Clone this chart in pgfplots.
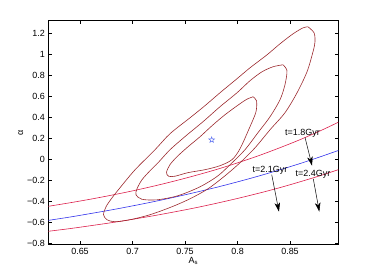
\documentclass[border=0pt]{standalone}
\usepackage{fontspec}
\setmainfont{Liberation Sans}
\usepackage{pgfplots}
\pgfplotsset{compat=1.18}
\usetikzlibrary{arrows.meta}
\definecolor{cred}{RGB}{220,30,75}
\definecolor{cblue}{RGB}{50,50,235}
\definecolor{cbrown}{RGB}{155,40,45}
\definecolor{cstar}{RGB}{90,110,240}
\pgfdeclareplotmark{pstar}{%
  \pgfpathmoveto{\pgfpointpolar{90}{\pgfplotmarksize}}%
  \pgfpathlineto{\pgfpointpolar{126}{0.4\pgfplotmarksize}}%
  \pgfpathlineto{\pgfpointpolar{162}{\pgfplotmarksize}}%
  \pgfpathlineto{\pgfpointpolar{198}{0.4\pgfplotmarksize}}%
  \pgfpathlineto{\pgfpointpolar{234}{\pgfplotmarksize}}%
  \pgfpathlineto{\pgfpointpolar{270}{0.4\pgfplotmarksize}}%
  \pgfpathlineto{\pgfpointpolar{306}{\pgfplotmarksize}}%
  \pgfpathlineto{\pgfpointpolar{342}{0.4\pgfplotmarksize}}%
  \pgfpathlineto{\pgfpointpolar{18}{\pgfplotmarksize}}%
  \pgfpathlineto{\pgfpointpolar{54}{0.4\pgfplotmarksize}}%
  \pgfpathclose
  \pgfusepathqstroke}
\begin{document}
\begin{tikzpicture}
\useasboundingbox (0,0) rectangle (374bp,276bp);
\begin{axis}[
  at={(48.3bp,31.5bp)}, anchor=south west,
  scale only axis, width=290bp, height=224bp,
  xmin=0.6198, xmax=0.896, ymin=-0.815, ymax=1.32,
  xtick={0.65,0.7,0.75,0.8,0.85},
  xticklabels={0.65,0.7,0.75,0.8,0.85},
  ytick={-0.8,-0.6,-0.4,-0.2,0,0.2,0.4,0.6,0.8,1,1.2},
  yticklabels={−0.8,−0.6,−0.4,−0.2,0,0.2,0.4,0.6,0.8,1,1.2},
  tick align=inside, major tick length=3.5bp,
  every tick/.style={black, line width=0.5pt},
  axis line style={line width=0.8pt},
  tick label style={font=\fontsize{9}{10}\selectfont},
  label style={font=\fontsize{9}{10}\selectfont},
  xlabel={A\textsubscript{s}},
  ylabel={α},
  xlabel style={yshift=4bp},
  ylabel style={yshift=-3bp},
  clip=true,
]
% upper red
\addplot[cred, line width=0.6pt, smooth] coordinates {
(0.6198,-0.451) (0.64,-0.418) (0.66,-0.383) (0.68,-0.345) (0.70,-0.304) (0.72,-0.259)
(0.74,-0.210) (0.76,-0.157) (0.78,-0.100) (0.80,-0.037) (0.82,0.031) (0.84,0.106)
(0.86,0.186) (0.88,0.274) (0.896,0.350)};
% blue
\addplot[cblue, line width=0.6pt, smooth] coordinates {
(0.6198,-0.585) (0.64,-0.554) (0.66,-0.520) (0.68,-0.485) (0.70,-0.447) (0.72,-0.407)
(0.74,-0.364) (0.76,-0.318) (0.78,-0.270) (0.80,-0.218) (0.82,-0.163) (0.84,-0.104)
(0.86,-0.042) (0.88,0.025) (0.896,0.081)};
% lower red
\addplot[cred, line width=0.6pt, smooth] coordinates {
(0.6198,-0.689) (0.64,-0.664) (0.66,-0.636) (0.68,-0.607) (0.70,-0.575) (0.72,-0.541)
(0.74,-0.504) (0.76,-0.465) (0.78,-0.422) (0.80,-0.376) (0.82,-0.327) (0.84,-0.274)
(0.86,-0.216) (0.88,-0.155) (0.896,-0.102)};
% outer contour
\addplot[cbrown, line width=0.6pt, smooth] coordinates {
(0.8671,1.260) (0.8729,1.203) (0.8738,1.117) (0.8719,1.022) (0.8662,0.831) (0.8567,0.631)
(0.8452,0.441) (0.8310,0.279) (0.8167,0.107) (0.8024,-0.036) (0.7881,-0.160) (0.7719,-0.284)
(0.7548,-0.379) (0.7376,-0.455) (0.7167,-0.531) (0.6976,-0.579) (0.6833,-0.598) (0.6757,-0.579)
(0.6724,-0.531) (0.6748,-0.455) (0.6805,-0.370) (0.6881,-0.274) (0.7024,-0.103) (0.7214,0.088)
(0.7357,0.241) (0.7548,0.393) (0.7690,0.508) (0.7833,0.631) (0.7995,0.765) (0.8119,0.869)
(0.8281,0.993) (0.8405,1.098) (0.8529,1.193) (0.8624,1.250) (0.8671,1.260)};
% middle contour
\addplot[cbrown, line width=0.6pt, smooth] coordinates {
(0.8433,0.898) (0.8471,0.841) (0.8452,0.708) (0.8405,0.565) (0.8310,0.403) (0.8195,0.251)
(0.8071,0.088) (0.7948,-0.036) (0.7814,-0.160) (0.7643,-0.265) (0.7433,-0.350) (0.7233,-0.389)
(0.7090,-0.384) (0.7033,-0.341) (0.7043,-0.284) (0.7090,-0.198) (0.7167,-0.112) (0.7243,-0.036)
(0.7357,0.088) (0.7510,0.222) (0.7671,0.355) (0.7833,0.498) (0.7995,0.631) (0.8119,0.746)
(0.8233,0.831) (0.8338,0.879) (0.8433,0.898)};
% inner contour
\addplot[cbrown, line width=0.6pt, smooth] coordinates {
(0.8148,0.593) (0.8181,0.555) (0.8176,0.450) (0.8119,0.308) (0.8024,0.098) (0.7948,-0.006)
(0.7833,-0.064) (0.7690,-0.102) (0.7529,-0.130) (0.7405,-0.164) (0.7343,-0.164) (0.7324,-0.126)
(0.7357,-0.054) (0.7424,0.022) (0.7529,0.117) (0.7643,0.212) (0.7757,0.317) (0.7881,0.422)
(0.8024,0.527) (0.8090,0.570) (0.8148,0.593)};
% best fit star
\addplot[cstar, only marks, mark=pstar, mark size=3pt, mark options={line width=0.5pt}] coordinates {(0.7754,0.182)};
% annotations
\draw[black, line width=0.5pt, -{Stealth[length=9bp,width=5.5bp,inset=2.5bp]}] (axis cs:0.8643,0.205) -- (axis cs:0.8710,-0.064);
\draw[black, line width=0.5pt, -{Stealth[length=9bp,width=5.5bp,inset=2.5bp]}] (axis cs:0.8326,-0.150) -- (axis cs:0.8395,-0.502);
\draw[black, line width=0.5pt, -{Stealth[length=9bp,width=5.5bp,inset=2.5bp]}] (axis cs:0.8722,-0.190) -- (axis cs:0.8779,-0.502);
\node[font=\fontsize{9}{10}\selectfont, inner sep=0pt] at (axis cs:0.8619,0.246) {t=1.8Gyr};
\node[font=\fontsize{9}{10}\selectfont, inner sep=0pt] at (axis cs:0.8310,-0.112) {t=2.1Gyr};
\node[font=\fontsize{9}{10}\selectfont, inner sep=0pt] at (axis cs:0.8719,-0.149) {t=2.4Gyr};
\end{axis}
\end{tikzpicture}
\end{document}
